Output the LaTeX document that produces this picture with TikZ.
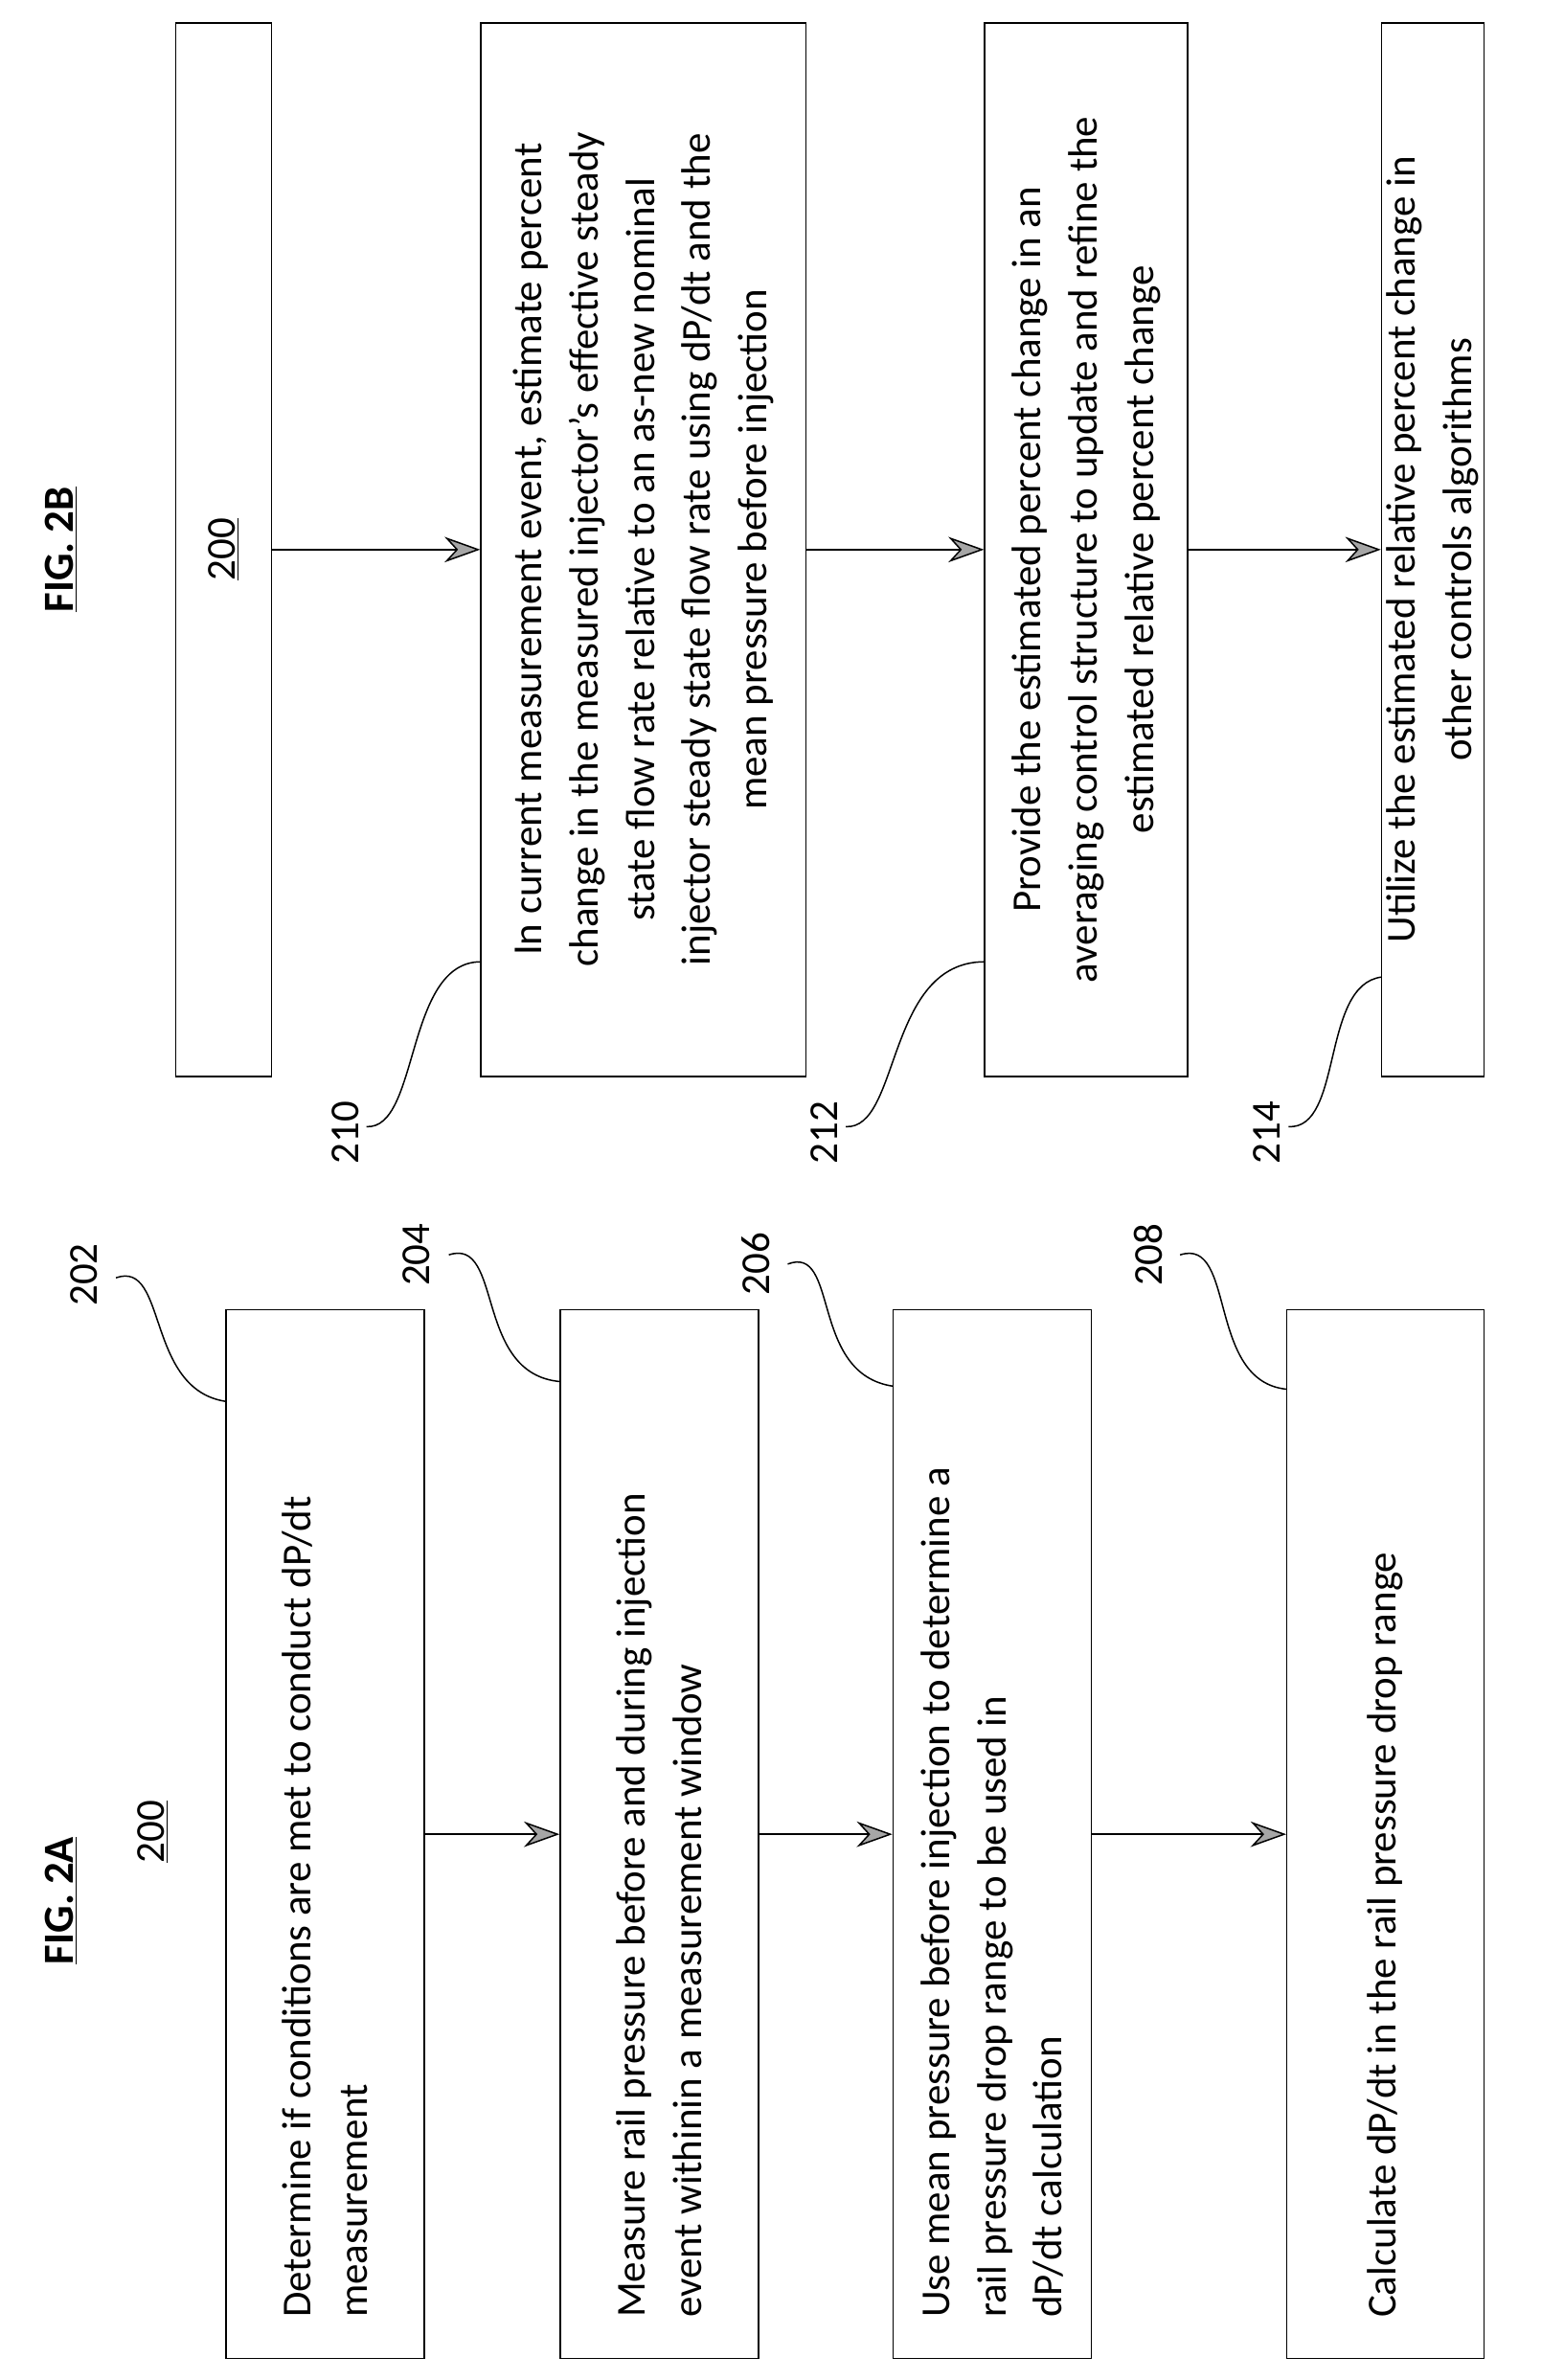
\documentclass[tikz,border=0pt]{standalone}
\usepackage{fontspec}
\setmainfont{Carlito}
\usetikzlibrary{arrows.meta}

\tikzset{
  box/.style={draw, thick, rotate=90, font=\fontsize{23}{31.5}\selectfont, inner sep=0pt},
  boxl/.style={box, align=left},
  boxc/.style={box, align=center},
  arr/.style={thick, -{Stealth[length=7mm, width=5mm, fill=gray!70]}},
  num/.style={rotate=90, font=\fontsize{23}{28}\selectfont, inner sep=1pt},
  lead/.style={thick},
}

\begin{document}
\begin{tikzpicture}[x=0.3mm, y=-0.3mm]
    % Rahmen
    \useasboundingbox (0,0) rectangle (1024,1559);

    % FIG. 2A
    \node[num, font=\fontsize{24}{28}\selectfont\bfseries] (fig2a) at (40,1245) {\underline{FIG. 2A}};
    \node[num] (ref2a) at (100,1200) {\underline{200}};

    \node[boxl, minimum width=206.1mm, minimum height=39mm] (b202) at (213,1201.5)
        {\parbox{190mm}{Determine if conditions are met to conduct dP/dt\\measurement}};
    \node[boxl, minimum width=206.1mm, minimum height=39mm] (b204) at (432,1201.5)
        {\parbox{190mm}{Measure rail pressure before and during injection\\event withinin a measurement window}};
    \node[boxl, minimum width=206.1mm, minimum height=39mm] (b206) at (650,1201.5)
        {\parbox{190mm}{Use mean pressure before injection to determine a\\rail pressure drop range to be used in\\dP/dt calculation}};
    \node[boxl, minimum width=206.1mm, minimum height=38.7mm] (b208) at (907.5,1201.5)
        {\parbox{190mm}{Calculate dP/dt in the rail pressure drop range}};

    \draw[arr] (b202) -- (b204);
    \draw[arr] (b204) -- (b206);
    \draw[arr] (b206) -- (b208);

    % Bezugszeichen 2A
    \node[num] (n202) at (55,835) {202};
    \node[num] (n204) at (273,822) {204};
    \node[num] (n206) at (495,828) {206};
    \node[num] (n208) at (752,822) {208};
    \coordinate (e202) at (148,918);
    \coordinate (e204) at (367,905);
    \coordinate (e206) at (585,908);
    \coordinate (e208) at (843,910);
    \draw[lead] (76,837) .. controls (110,825) and (95,910) .. (e202);
    \draw[lead] (294,822) .. controls (330,810) and (310,900) .. (e204);
    \draw[lead] (516,828) .. controls (550,815) and (530,900) .. (e206);
    \draw[lead] (773,822) .. controls (810,810) and (790,905) .. (e208);

    % FIG. 2B
    \node[num, font=\fontsize{24}{28}\selectfont\bfseries] (fig2b) at (40,360) {\underline{FIG. 2B}};

    \node[boxc, minimum width=207mm, minimum height=18.9mm] (b200) at (146.5,360)
        {\underline{200}};
    \node[boxc, minimum width=207mm, minimum height=63.9mm] (b210) at (421.5,360)
        {In current measurement event, estimate percent\\change in the measured injector's effective steady\\state flow rate relative to an as-new nominal\\injector steady state flow rate using dP/dt and the\\mean pressure before injection};
    \node[boxc, minimum width=207mm, minimum height=39.9mm] (b212) at (711.5,360)
        {Provide the estimated percent change in an\\averaging control structure to update and refine the\\estimated relative percent change};
    \node[boxc, minimum width=207mm, minimum height=20.1mm] (b214) at (938.5,360)
        {Utilize the estimated relative percent change in\\other controls algorithms};

    \draw[arr] (b200) -- (b210);
    \draw[arr] (b210) -- (b212);
    \draw[arr] (b212) -- (b214);

    % Bezugszeichen 2B
    \node[num] (n210) at (226,742) {210};
    \node[num] (n212) at (540,742) {212};
    \node[num] (n214) at (830,742) {214};
    \coordinate (e210) at (315,630);
    \coordinate (e212) at (645,630);
    \coordinate (e214) at (905,640);
    \draw[lead] (240,738) .. controls (275,740) and (265,630) .. (e210);
    \draw[lead] (554,738) .. controls (590,740) and (580,630) .. (e212);
    \draw[lead] (844,738) .. controls (880,740) and (865,645) .. (e214);
\end{tikzpicture}
\end{document}
